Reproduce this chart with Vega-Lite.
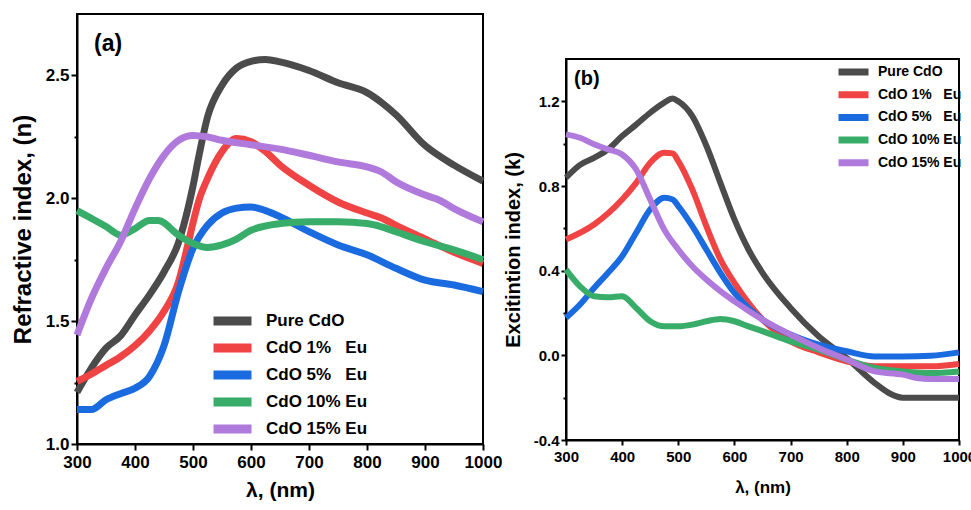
{
  "$schema": "https://vega.github.io/schema/vega-lite/v6.json",
  "padding": {"left": 10, "top": 13, "right": 0, "bottom": 0},
  "background": "white",
  "bounds": "flush",
  "spacing": 83,
  "datasets": {
    "refractive": [
      {"wl": 300, "value": 1.21, "sample": "Pure CdO"},
      {"wl": 325, "value": 1.31, "sample": "Pure CdO"},
      {"wl": 350, "value": 1.39, "sample": "Pure CdO"},
      {"wl": 375, "value": 1.44, "sample": "Pure CdO"},
      {"wl": 400, "value": 1.525, "sample": "Pure CdO"},
      {"wl": 425, "value": 1.607, "sample": "Pure CdO"},
      {"wl": 450, "value": 1.70, "sample": "Pure CdO"},
      {"wl": 475, "value": 1.82, "sample": "Pure CdO"},
      {"wl": 500, "value": 2.05, "sample": "Pure CdO"},
      {"wl": 510, "value": 2.17, "sample": "Pure CdO"},
      {"wl": 525, "value": 2.33, "sample": "Pure CdO"},
      {"wl": 550, "value": 2.46, "sample": "Pure CdO"},
      {"wl": 575, "value": 2.53, "sample": "Pure CdO"},
      {"wl": 600, "value": 2.557, "sample": "Pure CdO"},
      {"wl": 625, "value": 2.565, "sample": "Pure CdO"},
      {"wl": 650, "value": 2.555, "sample": "Pure CdO"},
      {"wl": 700, "value": 2.52, "sample": "Pure CdO"},
      {"wl": 750, "value": 2.47, "sample": "Pure CdO"},
      {"wl": 800, "value": 2.43, "sample": "Pure CdO"},
      {"wl": 825, "value": 2.39, "sample": "Pure CdO"},
      {"wl": 850, "value": 2.34, "sample": "Pure CdO"},
      {"wl": 900, "value": 2.215, "sample": "Pure CdO"},
      {"wl": 950, "value": 2.135, "sample": "Pure CdO"},
      {"wl": 1000, "value": 2.07, "sample": "Pure CdO"},

      {"wl": 300, "value": 1.255, "sample": "CdO 1%\u00a0\u00a0\u00a0Eu"},
      {"wl": 325, "value": 1.285, "sample": "CdO 1%\u00a0\u00a0\u00a0Eu"},
      {"wl": 350, "value": 1.32, "sample": "CdO 1%\u00a0\u00a0\u00a0Eu"},
      {"wl": 375, "value": 1.355, "sample": "CdO 1%\u00a0\u00a0\u00a0Eu"},
      {"wl": 400, "value": 1.40, "sample": "CdO 1%\u00a0\u00a0\u00a0Eu"},
      {"wl": 425, "value": 1.46, "sample": "CdO 1%\u00a0\u00a0\u00a0Eu"},
      {"wl": 450, "value": 1.54, "sample": "CdO 1%\u00a0\u00a0\u00a0Eu"},
      {"wl": 475, "value": 1.66, "sample": "CdO 1%\u00a0\u00a0\u00a0Eu"},
      {"wl": 490, "value": 1.80, "sample": "CdO 1%\u00a0\u00a0\u00a0Eu"},
      {"wl": 500, "value": 1.90, "sample": "CdO 1%\u00a0\u00a0\u00a0Eu"},
      {"wl": 510, "value": 1.99, "sample": "CdO 1%\u00a0\u00a0\u00a0Eu"},
      {"wl": 525, "value": 2.08, "sample": "CdO 1%\u00a0\u00a0\u00a0Eu"},
      {"wl": 550, "value": 2.19, "sample": "CdO 1%\u00a0\u00a0\u00a0Eu"},
      {"wl": 575, "value": 2.243, "sample": "CdO 1%\u00a0\u00a0\u00a0Eu"},
      {"wl": 600, "value": 2.23, "sample": "CdO 1%\u00a0\u00a0\u00a0Eu"},
      {"wl": 625, "value": 2.19, "sample": "CdO 1%\u00a0\u00a0\u00a0Eu"},
      {"wl": 650, "value": 2.135, "sample": "CdO 1%\u00a0\u00a0\u00a0Eu"},
      {"wl": 700, "value": 2.053, "sample": "CdO 1%\u00a0\u00a0\u00a0Eu"},
      {"wl": 750, "value": 1.985, "sample": "CdO 1%\u00a0\u00a0\u00a0Eu"},
      {"wl": 800, "value": 1.94, "sample": "CdO 1%\u00a0\u00a0\u00a0Eu"},
      {"wl": 825, "value": 1.92, "sample": "CdO 1%\u00a0\u00a0\u00a0Eu"},
      {"wl": 850, "value": 1.89, "sample": "CdO 1%\u00a0\u00a0\u00a0Eu"},
      {"wl": 900, "value": 1.835, "sample": "CdO 1%\u00a0\u00a0\u00a0Eu"},
      {"wl": 950, "value": 1.78, "sample": "CdO 1%\u00a0\u00a0\u00a0Eu"},
      {"wl": 1000, "value": 1.735, "sample": "CdO 1%\u00a0\u00a0\u00a0Eu"},

      {"wl": 300, "value": 1.14, "sample": "CdO 5%\u00a0\u00a0\u00a0Eu"},
      {"wl": 325, "value": 1.14, "sample": "CdO 5%\u00a0\u00a0\u00a0Eu"},
      {"wl": 350, "value": 1.18, "sample": "CdO 5%\u00a0\u00a0\u00a0Eu"},
      {"wl": 375, "value": 1.205, "sample": "CdO 5%\u00a0\u00a0\u00a0Eu"},
      {"wl": 400, "value": 1.227, "sample": "CdO 5%\u00a0\u00a0\u00a0Eu"},
      {"wl": 425, "value": 1.275, "sample": "CdO 5%\u00a0\u00a0\u00a0Eu"},
      {"wl": 450, "value": 1.40, "sample": "CdO 5%\u00a0\u00a0\u00a0Eu"},
      {"wl": 475, "value": 1.62, "sample": "CdO 5%\u00a0\u00a0\u00a0Eu"},
      {"wl": 500, "value": 1.796, "sample": "CdO 5%\u00a0\u00a0\u00a0Eu"},
      {"wl": 525, "value": 1.89, "sample": "CdO 5%\u00a0\u00a0\u00a0Eu"},
      {"wl": 550, "value": 1.94, "sample": "CdO 5%\u00a0\u00a0\u00a0Eu"},
      {"wl": 575, "value": 1.96, "sample": "CdO 5%\u00a0\u00a0\u00a0Eu"},
      {"wl": 600, "value": 1.965, "sample": "CdO 5%\u00a0\u00a0\u00a0Eu"},
      {"wl": 625, "value": 1.95, "sample": "CdO 5%\u00a0\u00a0\u00a0Eu"},
      {"wl": 650, "value": 1.925, "sample": "CdO 5%\u00a0\u00a0\u00a0Eu"},
      {"wl": 700, "value": 1.864, "sample": "CdO 5%\u00a0\u00a0\u00a0Eu"},
      {"wl": 750, "value": 1.81, "sample": "CdO 5%\u00a0\u00a0\u00a0Eu"},
      {"wl": 800, "value": 1.77, "sample": "CdO 5%\u00a0\u00a0\u00a0Eu"},
      {"wl": 850, "value": 1.715, "sample": "CdO 5%\u00a0\u00a0\u00a0Eu"},
      {"wl": 900, "value": 1.667, "sample": "CdO 5%\u00a0\u00a0\u00a0Eu"},
      {"wl": 950, "value": 1.647, "sample": "CdO 5%\u00a0\u00a0\u00a0Eu"},
      {"wl": 1000, "value": 1.62, "sample": "CdO 5%\u00a0\u00a0\u00a0Eu"},

      {"wl": 300, "value": 1.95, "sample": "CdO 10% Eu"},
      {"wl": 325, "value": 1.918, "sample": "CdO 10% Eu"},
      {"wl": 350, "value": 1.885, "sample": "CdO 10% Eu"},
      {"wl": 375, "value": 1.85, "sample": "CdO 10% Eu"},
      {"wl": 400, "value": 1.877, "sample": "CdO 10% Eu"},
      {"wl": 425, "value": 1.91, "sample": "CdO 10% Eu"},
      {"wl": 440, "value": 1.91, "sample": "CdO 10% Eu"},
      {"wl": 475, "value": 1.85, "sample": "CdO 10% Eu"},
      {"wl": 500, "value": 1.816, "sample": "CdO 10% Eu"},
      {"wl": 525, "value": 1.80, "sample": "CdO 10% Eu"},
      {"wl": 550, "value": 1.81, "sample": "CdO 10% Eu"},
      {"wl": 575, "value": 1.834, "sample": "CdO 10% Eu"},
      {"wl": 600, "value": 1.87, "sample": "CdO 10% Eu"},
      {"wl": 650, "value": 1.897, "sample": "CdO 10% Eu"},
      {"wl": 700, "value": 1.904, "sample": "CdO 10% Eu"},
      {"wl": 750, "value": 1.904, "sample": "CdO 10% Eu"},
      {"wl": 800, "value": 1.897, "sample": "CdO 10% Eu"},
      {"wl": 825, "value": 1.884, "sample": "CdO 10% Eu"},
      {"wl": 850, "value": 1.864, "sample": "CdO 10% Eu"},
      {"wl": 900, "value": 1.823, "sample": "CdO 10% Eu"},
      {"wl": 950, "value": 1.79, "sample": "CdO 10% Eu"},
      {"wl": 1000, "value": 1.75, "sample": "CdO 10% Eu"},

      {"wl": 300, "value": 1.444, "sample": "CdO 15% Eu"},
      {"wl": 325, "value": 1.593, "sample": "CdO 15% Eu"},
      {"wl": 350, "value": 1.715, "sample": "CdO 15% Eu"},
      {"wl": 375, "value": 1.823, "sample": "CdO 15% Eu"},
      {"wl": 400, "value": 1.958, "sample": "CdO 15% Eu"},
      {"wl": 425, "value": 2.08, "sample": "CdO 15% Eu"},
      {"wl": 450, "value": 2.175, "sample": "CdO 15% Eu"},
      {"wl": 475, "value": 2.236, "sample": "CdO 15% Eu"},
      {"wl": 500, "value": 2.256, "sample": "CdO 15% Eu"},
      {"wl": 525, "value": 2.25, "sample": "CdO 15% Eu"},
      {"wl": 550, "value": 2.236, "sample": "CdO 15% Eu"},
      {"wl": 600, "value": 2.218, "sample": "CdO 15% Eu"},
      {"wl": 650, "value": 2.20, "sample": "CdO 15% Eu"},
      {"wl": 700, "value": 2.175, "sample": "CdO 15% Eu"},
      {"wl": 750, "value": 2.148, "sample": "CdO 15% Eu"},
      {"wl": 800, "value": 2.128, "sample": "CdO 15% Eu"},
      {"wl": 825, "value": 2.107, "sample": "CdO 15% Eu"},
      {"wl": 850, "value": 2.067, "sample": "CdO 15% Eu"},
      {"wl": 900, "value": 2.013, "sample": "CdO 15% Eu"},
      {"wl": 925, "value": 1.992, "sample": "CdO 15% Eu"},
      {"wl": 950, "value": 1.958, "sample": "CdO 15% Eu"},
      {"wl": 1000, "value": 1.904, "sample": "CdO 15% Eu"}
    ],
    "extinction": [
      {"wl": 300, "value": 0.839, "sample": "Pure CdO"},
      {"wl": 325, "value": 0.90, "sample": "Pure CdO"},
      {"wl": 350, "value": 0.933, "sample": "Pure CdO"},
      {"wl": 375, "value": 0.973, "sample": "Pure CdO"},
      {"wl": 400, "value": 1.036, "sample": "Pure CdO"},
      {"wl": 425, "value": 1.09, "sample": "Pure CdO"},
      {"wl": 450, "value": 1.146, "sample": "Pure CdO"},
      {"wl": 475, "value": 1.194, "sample": "Pure CdO"},
      {"wl": 490, "value": 1.213, "sample": "Pure CdO"},
      {"wl": 500, "value": 1.20, "sample": "Pure CdO"},
      {"wl": 525, "value": 1.13, "sample": "Pure CdO"},
      {"wl": 550, "value": 0.99, "sample": "Pure CdO"},
      {"wl": 575, "value": 0.815, "sample": "Pure CdO"},
      {"wl": 600, "value": 0.642, "sample": "Pure CdO"},
      {"wl": 625, "value": 0.50, "sample": "Pure CdO"},
      {"wl": 650, "value": 0.39, "sample": "Pure CdO"},
      {"wl": 700, "value": 0.224, "sample": "Pure CdO"},
      {"wl": 750, "value": 0.09, "sample": "Pure CdO"},
      {"wl": 800, "value": -0.013, "sample": "Pure CdO"},
      {"wl": 850, "value": -0.131, "sample": "Pure CdO"},
      {"wl": 875, "value": -0.178, "sample": "Pure CdO"},
      {"wl": 900, "value": -0.20, "sample": "Pure CdO"},
      {"wl": 950, "value": -0.20, "sample": "Pure CdO"},
      {"wl": 1000, "value": -0.20, "sample": "Pure CdO"},

      {"wl": 300, "value": 0.547, "sample": "CdO 1%\u00a0\u00a0\u00a0Eu"},
      {"wl": 350, "value": 0.618, "sample": "CdO 1%\u00a0\u00a0\u00a0Eu"},
      {"wl": 400, "value": 0.736, "sample": "CdO 1%\u00a0\u00a0\u00a0Eu"},
      {"wl": 425, "value": 0.815, "sample": "CdO 1%\u00a0\u00a0\u00a0Eu"},
      {"wl": 450, "value": 0.91, "sample": "CdO 1%\u00a0\u00a0\u00a0Eu"},
      {"wl": 475, "value": 0.957, "sample": "CdO 1%\u00a0\u00a0\u00a0Eu"},
      {"wl": 490, "value": 0.954, "sample": "CdO 1%\u00a0\u00a0\u00a0Eu"},
      {"wl": 500, "value": 0.918, "sample": "CdO 1%\u00a0\u00a0\u00a0Eu"},
      {"wl": 525, "value": 0.784, "sample": "CdO 1%\u00a0\u00a0\u00a0Eu"},
      {"wl": 550, "value": 0.61, "sample": "CdO 1%\u00a0\u00a0\u00a0Eu"},
      {"wl": 575, "value": 0.453, "sample": "CdO 1%\u00a0\u00a0\u00a0Eu"},
      {"wl": 600, "value": 0.342, "sample": "CdO 1%\u00a0\u00a0\u00a0Eu"},
      {"wl": 625, "value": 0.248, "sample": "CdO 1%\u00a0\u00a0\u00a0Eu"},
      {"wl": 650, "value": 0.169, "sample": "CdO 1%\u00a0\u00a0\u00a0Eu"},
      {"wl": 700, "value": 0.066, "sample": "CdO 1%\u00a0\u00a0\u00a0Eu"},
      {"wl": 750, "value": 0.014, "sample": "CdO 1%\u00a0\u00a0\u00a0Eu"},
      {"wl": 800, "value": -0.028, "sample": "CdO 1%\u00a0\u00a0\u00a0Eu"},
      {"wl": 850, "value": -0.052, "sample": "CdO 1%\u00a0\u00a0\u00a0Eu"},
      {"wl": 900, "value": -0.052, "sample": "CdO 1%\u00a0\u00a0\u00a0Eu"},
      {"wl": 950, "value": -0.052, "sample": "CdO 1%\u00a0\u00a0\u00a0Eu"},
      {"wl": 1000, "value": -0.041, "sample": "CdO 1%\u00a0\u00a0\u00a0Eu"},

      {"wl": 300, "value": 0.177, "sample": "CdO 5%\u00a0\u00a0\u00a0Eu"},
      {"wl": 325, "value": 0.24, "sample": "CdO 5%\u00a0\u00a0\u00a0Eu"},
      {"wl": 350, "value": 0.318, "sample": "CdO 5%\u00a0\u00a0\u00a0Eu"},
      {"wl": 375, "value": 0.39, "sample": "CdO 5%\u00a0\u00a0\u00a0Eu"},
      {"wl": 400, "value": 0.468, "sample": "CdO 5%\u00a0\u00a0\u00a0Eu"},
      {"wl": 425, "value": 0.579, "sample": "CdO 5%\u00a0\u00a0\u00a0Eu"},
      {"wl": 450, "value": 0.689, "sample": "CdO 5%\u00a0\u00a0\u00a0Eu"},
      {"wl": 475, "value": 0.744, "sample": "CdO 5%\u00a0\u00a0\u00a0Eu"},
      {"wl": 490, "value": 0.736, "sample": "CdO 5%\u00a0\u00a0\u00a0Eu"},
      {"wl": 500, "value": 0.705, "sample": "CdO 5%\u00a0\u00a0\u00a0Eu"},
      {"wl": 525, "value": 0.61, "sample": "CdO 5%\u00a0\u00a0\u00a0Eu"},
      {"wl": 550, "value": 0.50, "sample": "CdO 5%\u00a0\u00a0\u00a0Eu"},
      {"wl": 575, "value": 0.39, "sample": "CdO 5%\u00a0\u00a0\u00a0Eu"},
      {"wl": 600, "value": 0.295, "sample": "CdO 5%\u00a0\u00a0\u00a0Eu"},
      {"wl": 625, "value": 0.224, "sample": "CdO 5%\u00a0\u00a0\u00a0Eu"},
      {"wl": 650, "value": 0.169, "sample": "CdO 5%\u00a0\u00a0\u00a0Eu"},
      {"wl": 700, "value": 0.098, "sample": "CdO 5%\u00a0\u00a0\u00a0Eu"},
      {"wl": 750, "value": 0.05, "sample": "CdO 5%\u00a0\u00a0\u00a0Eu"},
      {"wl": 800, "value": 0.019, "sample": "CdO 5%\u00a0\u00a0\u00a0Eu"},
      {"wl": 850, "value": -0.005, "sample": "CdO 5%\u00a0\u00a0\u00a0Eu"},
      {"wl": 900, "value": -0.005, "sample": "CdO 5%\u00a0\u00a0\u00a0Eu"},
      {"wl": 950, "value": -0.002, "sample": "CdO 5%\u00a0\u00a0\u00a0Eu"},
      {"wl": 1000, "value": 0.014, "sample": "CdO 5%\u00a0\u00a0\u00a0Eu"},

      {"wl": 300, "value": 0.405, "sample": "CdO 10% Eu"},
      {"wl": 325, "value": 0.326, "sample": "CdO 10% Eu"},
      {"wl": 350, "value": 0.279, "sample": "CdO 10% Eu"},
      {"wl": 375, "value": 0.274, "sample": "CdO 10% Eu"},
      {"wl": 400, "value": 0.279, "sample": "CdO 10% Eu"},
      {"wl": 425, "value": 0.224, "sample": "CdO 10% Eu"},
      {"wl": 450, "value": 0.161, "sample": "CdO 10% Eu"},
      {"wl": 475, "value": 0.137, "sample": "CdO 10% Eu"},
      {"wl": 500, "value": 0.137, "sample": "CdO 10% Eu"},
      {"wl": 525, "value": 0.145, "sample": "CdO 10% Eu"},
      {"wl": 550, "value": 0.161, "sample": "CdO 10% Eu"},
      {"wl": 575, "value": 0.172, "sample": "CdO 10% Eu"},
      {"wl": 600, "value": 0.161, "sample": "CdO 10% Eu"},
      {"wl": 625, "value": 0.137, "sample": "CdO 10% Eu"},
      {"wl": 650, "value": 0.114, "sample": "CdO 10% Eu"},
      {"wl": 700, "value": 0.066, "sample": "CdO 10% Eu"},
      {"wl": 750, "value": 0.027, "sample": "CdO 10% Eu"},
      {"wl": 800, "value": -0.02, "sample": "CdO 10% Eu"},
      {"wl": 850, "value": -0.06, "sample": "CdO 10% Eu"},
      {"wl": 900, "value": -0.076, "sample": "CdO 10% Eu"},
      {"wl": 950, "value": -0.084, "sample": "CdO 10% Eu"},
      {"wl": 1000, "value": -0.076, "sample": "CdO 10% Eu"},

      {"wl": 300, "value": 1.044, "sample": "CdO 15% Eu"},
      {"wl": 325, "value": 1.028, "sample": "CdO 15% Eu"},
      {"wl": 350, "value": 0.997, "sample": "CdO 15% Eu"},
      {"wl": 375, "value": 0.973, "sample": "CdO 15% Eu"},
      {"wl": 400, "value": 0.949, "sample": "CdO 15% Eu"},
      {"wl": 425, "value": 0.878, "sample": "CdO 15% Eu"},
      {"wl": 450, "value": 0.736, "sample": "CdO 15% Eu"},
      {"wl": 475, "value": 0.594, "sample": "CdO 15% Eu"},
      {"wl": 500, "value": 0.50, "sample": "CdO 15% Eu"},
      {"wl": 525, "value": 0.421, "sample": "CdO 15% Eu"},
      {"wl": 550, "value": 0.358, "sample": "CdO 15% Eu"},
      {"wl": 575, "value": 0.303, "sample": "CdO 15% Eu"},
      {"wl": 600, "value": 0.255, "sample": "CdO 15% Eu"},
      {"wl": 650, "value": 0.169, "sample": "CdO 15% Eu"},
      {"wl": 700, "value": 0.098, "sample": "CdO 15% Eu"},
      {"wl": 750, "value": 0.035, "sample": "CdO 15% Eu"},
      {"wl": 800, "value": -0.02, "sample": "CdO 15% Eu"},
      {"wl": 850, "value": -0.076, "sample": "CdO 15% Eu"},
      {"wl": 900, "value": -0.091, "sample": "CdO 15% Eu"},
      {"wl": 925, "value": -0.107, "sample": "CdO 15% Eu"},
      {"wl": 950, "value": -0.112, "sample": "CdO 15% Eu"},
      {"wl": 1000, "value": -0.112, "sample": "CdO 15% Eu"}
    ]
  },
  "hconcat": [
    {
      "width": 406,
      "height": 430,
      "view": {"stroke": "black", "strokeWidth": 2},
      "layer": [
        {
          "data": {"name": "refractive"},
          "mark": {"type": "line", "strokeWidth": 7, "interpolate": "monotone"},
          "encoding": {
            "x": {
              "field": "wl", "type": "quantitative",
              "scale": {"domain": [300, 1000], "nice": false},
              "axis": {
                "title": "λ, (nm)",
                "format": "d",
                "values": [300, 350, 400, 450, 500, 550, 600, 650, 700, 750, 800, 850, 900, 950, 1000],
                "labelExpr": "datum.value % 100 === 0 ? datum.label : ''",
                "tickSize": {"condition": {"test": "datum.value % 100 === 0", "value": 6}, "value": 3},
                "labelFontSize": 17, "titleFontSize": 21, "labelPadding": 4, "titlePadding": 9
              }
            },
            "y": {
              "field": "value", "type": "quantitative",
              "scale": {"domain": [1, 2.75], "nice": false, "zero": false},
              "axis": {
                "title": "Refractive index, (n)",
                "values": [1, 1.25, 1.5, 1.75, 2, 2.25, 2.5],
                "format": ".1f",
                "labelExpr": "abs(datum.value * 2 - round(datum.value * 2)) < 0.001 ? datum.label : ''",
                "tickSize": {"condition": {"test": "abs(datum.value * 2 - round(datum.value * 2)) < 0.001", "value": 6}, "value": 3},
                "labelFontSize": 17, "titleFontSize": 24, "labelPadding": 2, "titlePadding": 10
              }
            },
            "color": {
              "field": "sample", "type": "nominal",
              "scale": {
                "domain": ["Pure CdO", "CdO 1%\u00a0\u00a0\u00a0Eu", "CdO 5%\u00a0\u00a0\u00a0Eu", "CdO 10% Eu", "CdO 15% Eu"],
                "range": ["#4b4b4b", "#f04343", "#1b6be0", "#38ad6a", "#b07adc"]
              },
              "legend": {
                "title": null, "orient": "none", "legendX": 132, "legendY": 297,
                "symbolType": "stroke", "symbolSize": 1444, "symbolStrokeWidth": 9,
                "clipHeight": 20,
                "labelFontSize": 17, "labelFontWeight": "bold", "labelColor": "black",
                "rowPadding": 7, "labelOffset": 10, "padding": 0
              }
            }
          }
        },
        {
          "data": {"values": [{"label": "(a)"}]},
          "mark": {"type": "text", "font": "Liberation Sans", "fontSize": 23, "fontWeight": "bold", "align": "left", "baseline": "middle", "dx": 17, "dy": 30, "fill": "black"},
          "encoding": {"text": {"field": "label"}, "x": {"datum": 300}, "y": {"datum": 2.75}}
        }
      ]
    },
    {
      "spacing": 0,
      "bounds": "flush",
      "resolve": {"scale": {"color": "independent"}, "legend": {"color": "independent"}},
      "vconcat": [
        {
          "width": 393,
          "height": 45,
          "data": {"values": []},
          "view": {"stroke": null},
          "mark": "text",
          "encoding": {}
        },
        {
          "width": 393,
          "height": 381,
          "view": {"stroke": "black", "strokeWidth": 2},
          "layer": [
            {
              "data": {"name": "extinction"},
              "mark": {"type": "line", "strokeWidth": 6, "interpolate": "monotone"},
              "encoding": {
                "x": {
                  "field": "wl", "type": "quantitative",
                  "scale": {"domain": [300, 1000], "nice": false},
                  "axis": {
                    "title": "λ, (nm)",
                    "format": "d",
                    "values": [300, 350, 400, 450, 500, 550, 600, 650, 700, 750, 800, 850, 900, 950, 1000],
                    "labelExpr": "datum.value % 100 === 0 ? datum.label : ''",
                    "tickSize": {"condition": {"test": "datum.value % 100 === 0", "value": 5}, "value": 3},
                    "labelFontSize": 15, "titleFontSize": 17, "labelPadding": 4, "titlePadding": 15
                  }
                },
                "y": {
                  "field": "value", "type": "quantitative",
                  "scale": {"domain": [-0.4, 1.4], "nice": false, "zero": false},
                  "axis": {
                    "title": "Excitintion index, (k)",
                    "values": [-0.4, -0.2, 0, 0.2, 0.4, 0.6, 0.8, 1.0, 1.2],
                    "format": ".1f",
                    "labelExpr": "abs(datum.value / 0.4 - round(datum.value / 0.4)) < 0.001 ? replace(datum.label, '\u2212', '-') : ''",
                    "tickSize": {"condition": {"test": "abs(datum.value / 0.4 - round(datum.value / 0.4)) < 0.001", "value": 5}, "value": 3},
                    "labelFontSize": 15, "titleFontSize": 20, "labelPadding": 2, "titlePadding": 10
                  }
                },
                "color": {
                  "field": "sample", "type": "nominal",
                  "scale": {
                    "domain": ["Pure CdO", "CdO 1%\u00a0\u00a0\u00a0Eu", "CdO 5%\u00a0\u00a0\u00a0Eu", "CdO 10% Eu", "CdO 15% Eu"],
                    "range": ["#4b4b4b", "#f04343", "#1b6be0", "#38ad6a", "#b07adc"]
                  },
                  "legend": {
                    "title": null, "orient": "none", "legendX": 269, "legendY": 5,
                    "symbolType": "stroke", "symbolSize": 900, "symbolStrokeWidth": 7,
                    "clipHeight": 16,
                    "labelFontSize": 14, "labelFontWeight": "bold", "labelColor": "black",
                    "rowPadding": 6.7, "labelOffset": 6, "padding": 0
                  }
                }
              }
            },
            {
              "data": {"values": [{"label": "(b)"}]},
              "mark": {"type": "text", "font": "Liberation Sans", "fontSize": 20, "fontWeight": "bold", "align": "left", "baseline": "middle", "dx": 8, "dy": 20, "fill": "black"},
              "encoding": {"text": {"field": "label"}, "x": {"datum": 300}, "y": {"datum": 1.4}}
            }
          ]
        }
      ]
    }
  ],
  "resolve": {"scale": {"color": "independent"}, "legend": {"color": "independent"}},
  "config": {
    "font": "Liberation Sans",
    "axis": {
      "labelFont": "Liberation Sans", "labelFontWeight": "bold", "labelColor": "black",
      "titleFont": "Liberation Sans", "titleFontWeight": "bold", "titleColor": "black",
      "domainColor": "black", "domainWidth": 2, "tickColor": "black", "tickWidth": 2,
      "grid": false, "labelFlush": false, "labelOverlap": false
    },
    "legend": {"labelFont": "Liberation Sans"}
  }
}
